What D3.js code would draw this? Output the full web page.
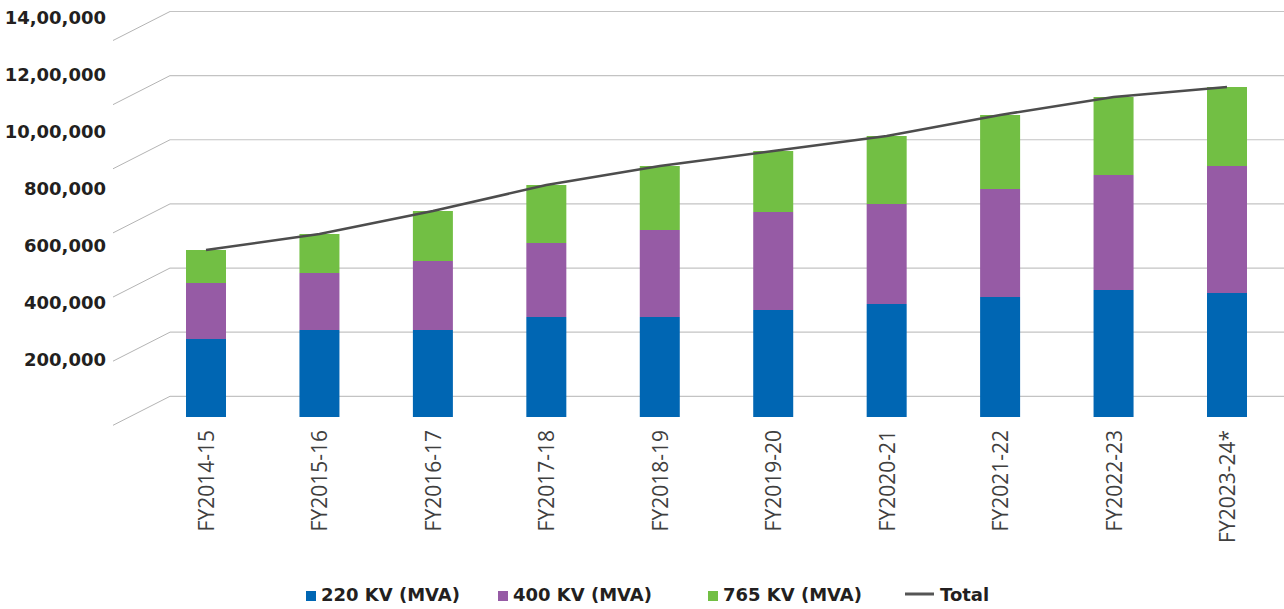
<!DOCTYPE html>
<html>
<head>
<meta charset="utf-8">
<script src="https://cdn.jsdelivr.net/npm/d3@7"></script>
<style>
  html, body { margin: 0; padding: 0; background: #ffffff; }
  svg { display: block; }
</style>
</head>
<body>
<svg id="chart" width="1284" height="609"></svg>
<script>
// Transformation capacity by voltage level (MVA), financial years
const categories = ["FY2014-15", "FY2015-16", "FY2016-17", "FY2017-18", "FY2018-19",
                    "FY2019-20", "FY2020-21", "FY2021-22", "FY2022-23", "FY2023-24*"];
const kv220 = [273000, 304500, 304500, 350000, 350000, 374500, 395500, 420000, 444500, 434000];
const kv400 = [196000, 199500, 241500, 259000, 304500, 343000, 350000, 378000, 402500, 444500];
const kv765 = [115500, 136500, 175000, 203000, 224000, 213500, 238000, 259000, 273000, 276500];
const total = [584500, 640500, 721000, 812000, 878500, 931000, 983500, 1057000, 1120000, 1155000];

const tickValues = [200000, 400000, 600000, 800000, 1000000, 1200000, 1400000];
const tickLabels = ["200,000", "400,000", "600,000", "800,000", "10,00,000", "12,00,000", "14,00,000"];

const seriesNames = ["220 KV (MVA)", "400 KV (MVA)", "765 KV (MVA)"];
const seriesColors = ["#0066b3", "#965ba5", "#72bf44"];
const lineName = "Total";
const lineColor = "#4d4d4d";

const svg = d3.select("#chart");

// value scale for the bars and the value labels
const y = d3.scaleLinear().domain([0, 1400000]).range([417, 17]);
// bar centres
const x = d3.scalePoint().domain(categories).range([206, 1227]);
const barW = 40;

// back wall of the oblique plot area: seven evenly spaced rules
const wallFrontX = 113, wallBackX = 170, wallDepth = 29;
const wallLevels = d3.range(7);
const wall = d3.scaleLinear().domain([0, 6]).range([396.3, 11.5]);

const grid = svg.append("g");
grid.selectAll("line.back").data(wallLevels).join("line")
  .attr("x1", wallBackX).attr("x2", 1284)
  .attr("y1", d => wall(d)).attr("y2", d => wall(d))
  .attr("stroke", "#c3c3c3").attr("stroke-width", 1.2);
grid.selectAll("line.side").data(wallLevels).join("line")
  .attr("x1", wallFrontX).attr("x2", wallBackX)
  .attr("y1", d => wall(d) + wallDepth).attr("y2", d => wall(d))
  .attr("stroke", "#b4b4b4").attr("stroke-width", 1);

// value labels
svg.append("g").selectAll("text").data(tickValues).join("text")
  .attr("x", 106).attr("y", d => y(d))
  .attr("text-anchor", "end").attr("dominant-baseline", "central")
  .attr("font-family", "'DejaVu Sans', sans-serif").attr("font-weight", "bold")
  .attr("font-size", 18).attr("fill", "#231f20")
  .text((d, i) => tickLabels[i]);

// stacked bars
const rows = categories.map((c, i) => ({ cat: c, s0: kv220[i], s1: kv400[i], s2: kv765[i] }));
const stacked = d3.stack().keys(["s0", "s1", "s2"])(rows);
svg.append("g").selectAll("g").data(stacked).join("g")
  .attr("fill", (d, i) => seriesColors[i])
  .selectAll("rect").data(d => d).join("rect")
  .attr("x", d => x(d.data.cat) - barW / 2)
  .attr("width", barW)
  .attr("y", d => y(d[1]))
  .attr("height", d => y(d[0]) - y(d[1]));

// total line
const line = d3.line().x((d, i) => x(categories[i])).y(d => y(d));
svg.append("path").datum(total)
  .attr("d", line).attr("fill", "none")
  .attr("stroke", lineColor).attr("stroke-width", 2.6);

// category labels, rotated
svg.append("g").selectAll("text").data(categories).join("text")
  .attr("transform", d => `translate(${x(d)},430) rotate(-90)`)
  .attr("text-anchor", "end").attr("dominant-baseline", "central")
  .attr("font-family", "'Open Sans', sans-serif").attr("font-size", 21)
  .attr("fill", "#3f3f3f")
  .text(d => d);

// legend
const legend = svg.append("g").attr("font-family", "'DejaVu Sans', sans-serif")
  .attr("font-weight", "bold").attr("font-size", 18).attr("fill", "#231f20");
const legendX = [306, 498, 708];
seriesNames.forEach((name, i) => {
  legend.append("rect").attr("x", legendX[i]).attr("y", 591).attr("width", 10).attr("height", 10)
    .attr("fill", seriesColors[i]);
  legend.append("text").attr("x", legendX[i] + 15).attr("y", 594)
    .attr("dominant-baseline", "central").text(name);
});
legend.append("line").attr("x1", 905).attr("x2", 934).attr("y1", 594).attr("y2", 594)
  .attr("stroke", "#555555").attr("stroke-width", 3);
legend.append("text").attr("x", 940).attr("y", 594)
  .attr("dominant-baseline", "central").text(lineName);
</script>
</body>
</html>
